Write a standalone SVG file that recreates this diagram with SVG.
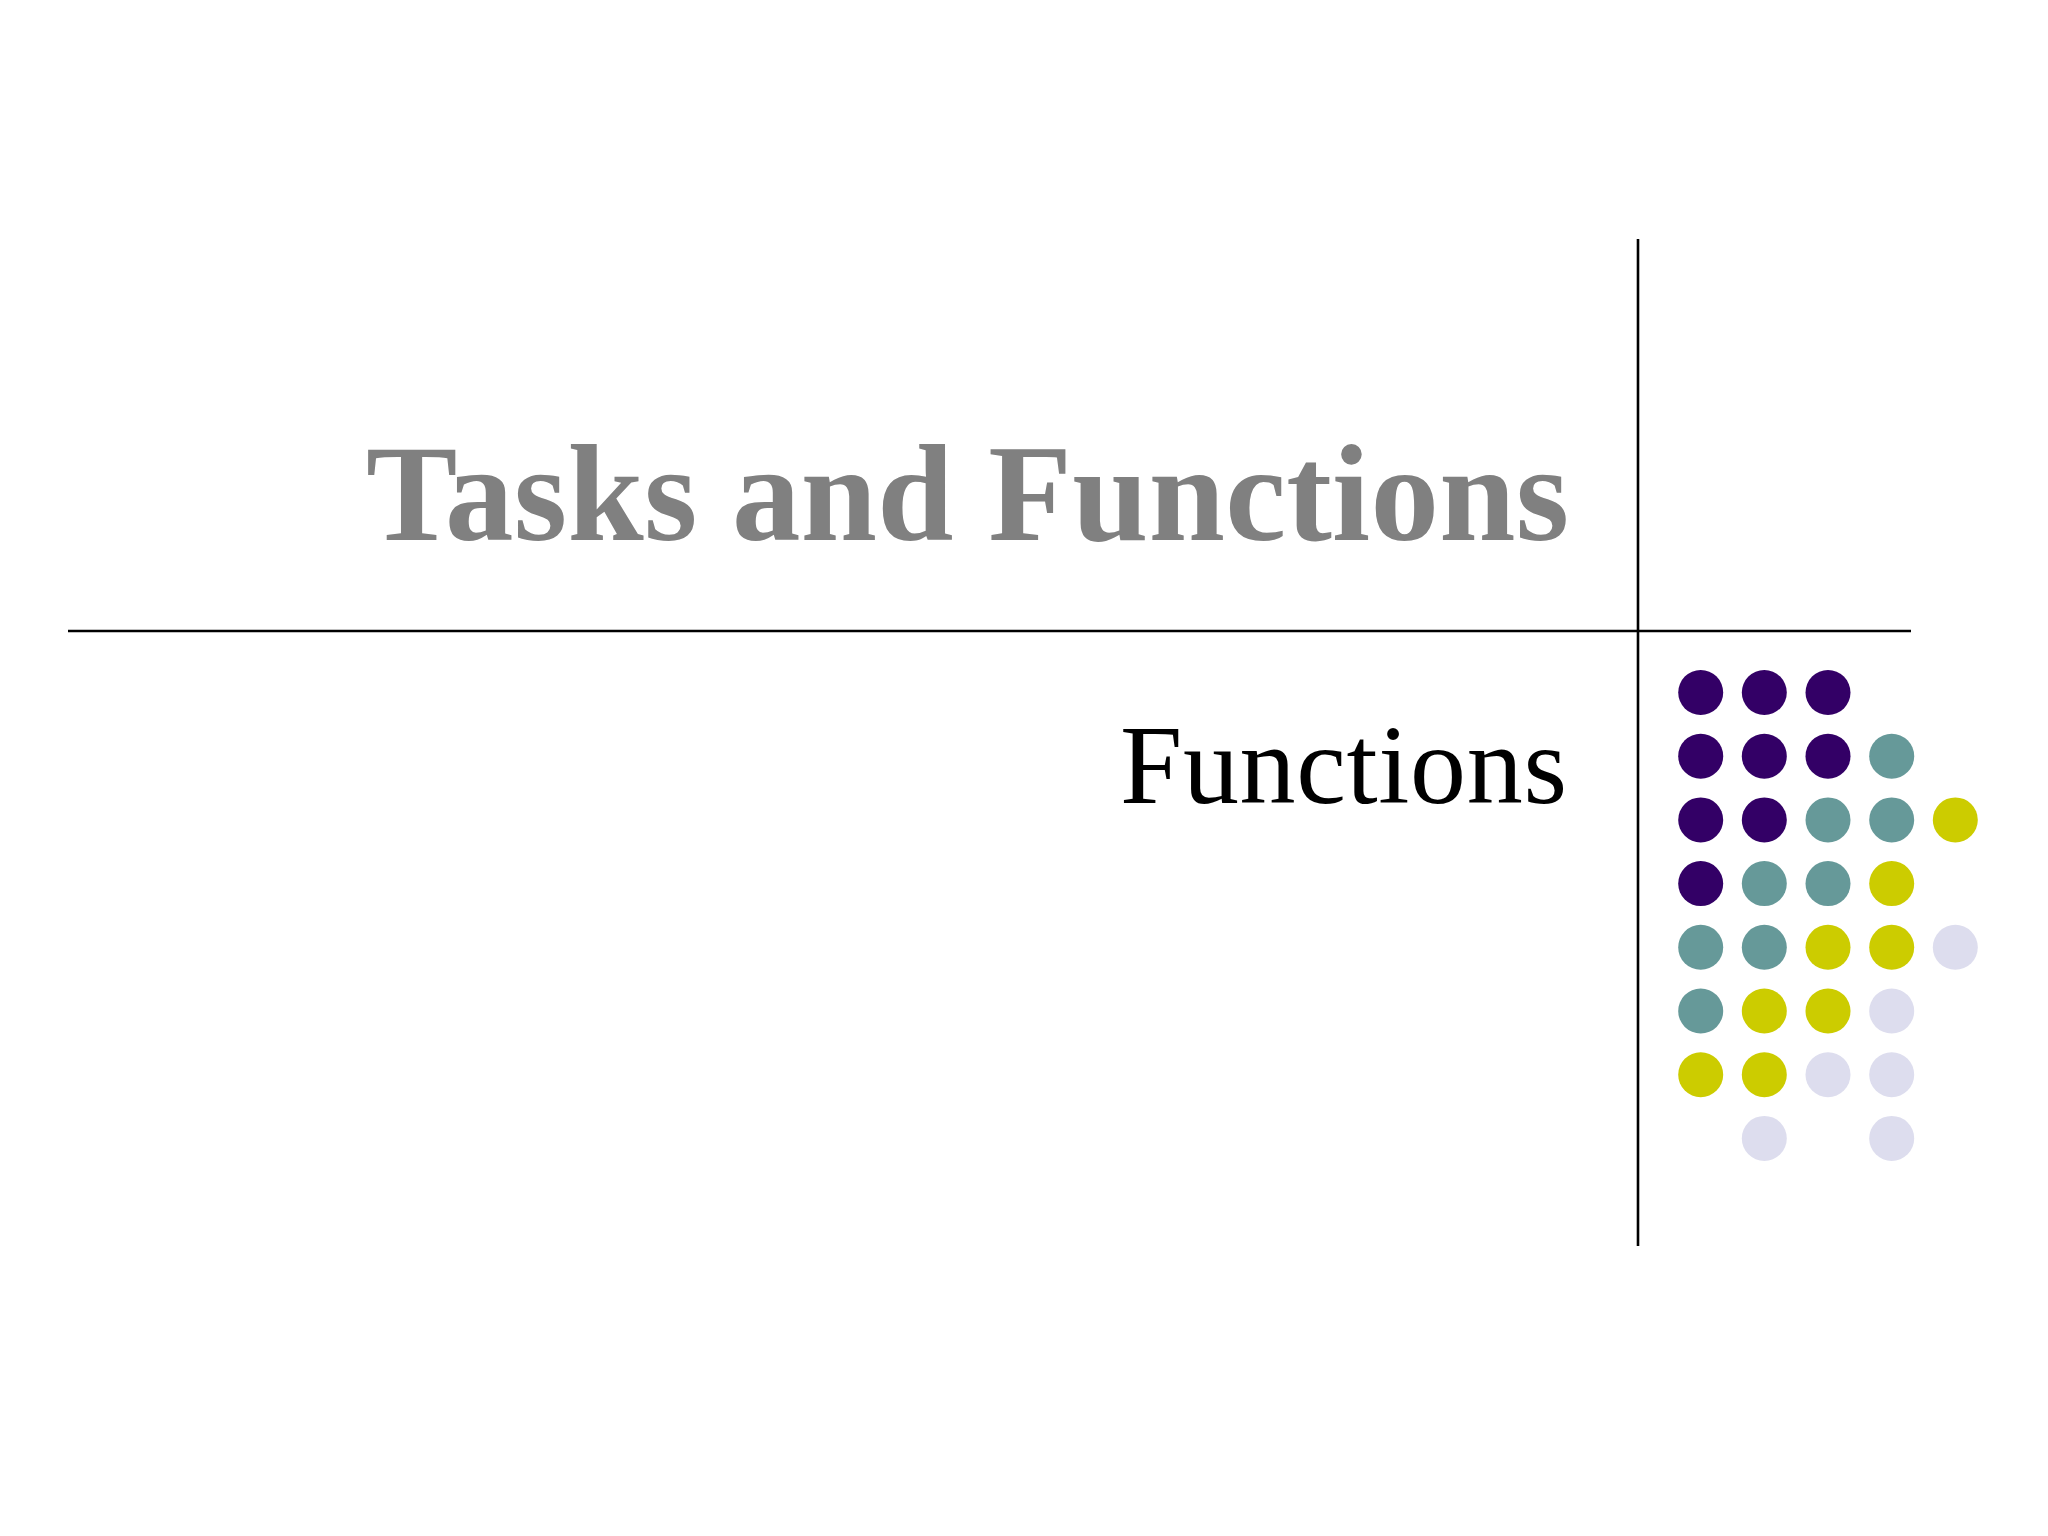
<svg xmlns="http://www.w3.org/2000/svg" width="2048" height="1536" viewBox="0 0 2048 1536">
<style>
.rule{stroke:#000000;stroke-width:2.6;fill:none}
.title{font-family:"Liberation Serif","Times New Roman",serif;font-weight:bold;font-size:137px;fill:#808080}
.sub{font-family:"Liberation Serif","Times New Roman",serif;font-size:112px;fill:#000000}
.p{fill:#330066}.t{fill:#669999}.y{fill:#CCCC00}.l{fill:#DDDDEE}
</style>
<rect width="2048" height="1536" fill="#ffffff"/>
<g id="rules">
<line class="rule" x1="1638" y1="239" x2="1638" y2="1246"/>
<line class="rule" x1="68" y1="631" x2="1911" y2="631"/>
</g>
<g id="title"><text class="title" x="366" y="540" textLength="1203" lengthAdjust="spacing">Tasks and Functions</text></g>
<g id="subtitle"><text class="sub" x="1120" y="803" textLength="447" lengthAdjust="spacing">Functions</text></g>
<g id="dots">
<circle class="p" cx="1700.7" cy="692.5" r="22.5"/><circle class="p" cx="1764.3" cy="692.5" r="22.5"/><circle class="p" cx="1828" cy="692.5" r="22.5"/>
<circle class="p" cx="1700.7" cy="756.2" r="22.5"/><circle class="p" cx="1764.3" cy="756.2" r="22.5"/><circle class="p" cx="1828" cy="756.2" r="22.5"/><circle class="t" cx="1891.7" cy="756.2" r="22.5"/>
<circle class="p" cx="1700.7" cy="819.9" r="22.5"/><circle class="p" cx="1764.3" cy="819.9" r="22.5"/><circle class="t" cx="1828" cy="819.9" r="22.5"/><circle class="t" cx="1891.7" cy="819.9" r="22.5"/><circle class="y" cx="1955.3" cy="819.9" r="22.5"/>
<circle class="p" cx="1700.7" cy="883.6" r="22.5"/><circle class="t" cx="1764.3" cy="883.6" r="22.5"/><circle class="t" cx="1828" cy="883.6" r="22.5"/><circle class="y" cx="1891.7" cy="883.6" r="22.5"/>
<circle class="t" cx="1700.7" cy="947.3" r="22.5"/><circle class="t" cx="1764.3" cy="947.3" r="22.5"/><circle class="y" cx="1828" cy="947.3" r="22.5"/><circle class="y" cx="1891.7" cy="947.3" r="22.5"/><circle class="l" cx="1955.3" cy="947.3" r="22.5"/>
<circle class="t" cx="1700.7" cy="1011" r="22.5"/><circle class="y" cx="1764.3" cy="1011" r="22.5"/><circle class="y" cx="1828" cy="1011" r="22.5"/><circle class="l" cx="1891.7" cy="1011" r="22.5"/>
<circle class="y" cx="1700.7" cy="1074.7" r="22.5"/><circle class="y" cx="1764.3" cy="1074.7" r="22.5"/><circle class="l" cx="1828" cy="1074.7" r="22.5"/><circle class="l" cx="1891.7" cy="1074.7" r="22.5"/>
<circle class="l" cx="1764.3" cy="1138.4" r="22.5"/><circle class="l" cx="1891.7" cy="1138.4" r="22.5"/>
</g>
</svg>
